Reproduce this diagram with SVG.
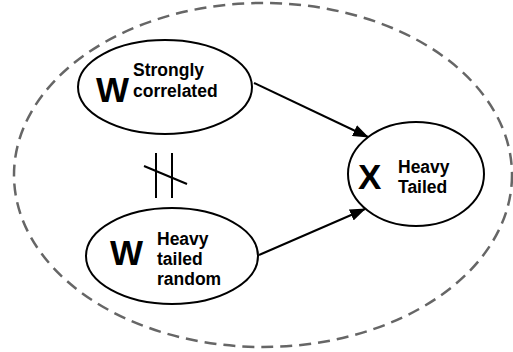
<svg xmlns="http://www.w3.org/2000/svg" width="513" height="352" viewBox="0 0 513 352">
<style>
.node{fill:#fff;stroke:#000;stroke-width:2}
.big{font-family:"Liberation Sans",Arial,sans-serif;font-weight:bold;font-size:35px;fill:#000}
.lbl{font-family:"Liberation Sans",Arial,sans-serif;font-weight:bold;font-size:17.5px;fill:#000}
.edge{stroke:#000;stroke-width:2;fill:none}
</style>
<defs>
<marker id="arr" markerWidth="16" markerHeight="12" refX="15" refY="6" orient="auto" markerUnits="userSpaceOnUse">
<path d="M0,0 L16,6 L0,12 Z" fill="#000"/>
</marker>
</defs>
<rect width="513" height="352" fill="#fff"/>
<ellipse id="boundary" cx="263" cy="175" rx="249" ry="172" fill="none" stroke="#666" stroke-width="2.5" stroke-dasharray="12,7"/>
<g id="connectors">
<line class="edge" x1="254" y1="83" x2="368" y2="137" marker-end="url(#arr)"/>
<line class="edge" x1="259" y1="255" x2="365" y2="209" marker-end="url(#arr)"/>
<g id="not-equal">
<line class="edge" x1="156" y1="153" x2="156" y2="198"/>
<line class="edge" x1="172" y1="153" x2="172" y2="198"/>
<line class="edge" x1="144" y1="166" x2="187" y2="184"/>
</g>
</g>
<g id="w-strong">
<ellipse class="node" cx="165" cy="87" rx="87" ry="47"/>
<text class="big" x="96" y="102">W</text>
<text class="lbl" x="133" y="76">Strongly</text>
<text class="lbl" x="133" y="97">correlated</text>
</g>
<g id="w-heavy">
<ellipse class="node" cx="172" cy="256" rx="86" ry="48"/>
<text class="big" x="110" y="265">W</text>
<text class="lbl" x="157" y="245">Heavy</text>
<text class="lbl" x="157" y="265">tailed</text>
<text class="lbl" x="157" y="285">random</text>
</g>
<g id="x-node">
<ellipse class="node" cx="416" cy="174" rx="68" ry="52"/>
<text class="big" x="358" y="189">X</text>
<text class="lbl" x="398" y="173">Heavy</text>
<text class="lbl" x="398" y="193">Tailed</text>
</g>
</svg>
